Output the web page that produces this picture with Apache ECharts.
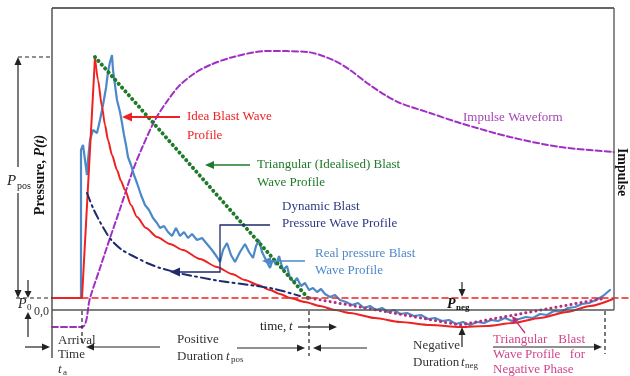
<!DOCTYPE html>
<html>
<head>
<meta charset="utf-8">
<script src="https://cdn.jsdelivr.net/npm/echarts@6/dist/echarts.min.js"></script>
<style>
  html, body { margin: 0; padding: 0; background: #fff; }
  #chart { width: 630px; height: 376px; }
</style>
</head>
<body>
<div id="chart"></div>
<script>
// time (arbitrary units) vs pressure (arbitrary units), 0,0 at arrival axis origin
var idealRise = [[0, 1.2], [3.0, 1.2], [4.3, 25.3]];
var idealDecay = [
  [4.3, 25.3], [4.6, 23.0], [5.0, 20.3], [5.3, 18.5], [5.6, 17.0], [6.0, 15.5], [6.5, 14.0],
  [6.9, 12.9], [7.3, 12.0], [7.9, 10.5], [8.5, 9.3], [9.4, 8.2], [10.5, 7.3], [11.8, 6.6],
  [13.1, 6.0], [14.8, 5.1], [16.5, 4.3], [18.0, 3.6], [19.3, 3.0], [20.6, 2.5], [21.8, 2.0],
  [22.8, 1.6], [23.8, 1.2], [25.3, 0.8], [26.8, 0.4], [28.3, 0.0], [29.8, -0.3], [32.3, -0.8],
  [34.8, -1.2], [37.8, -1.5], [40.8, -1.7], [43.5, -1.6], [46.1, -1.3], [48.8, -0.8],
  [51.5, -0.2], [53.8, 0.4], [56.1, 1.1]
];
var triangular = [[4.3, 25.3], [25.6, 1.2]];
var negTriangular = [[25.8, 1.2], [40.8, -1.5], [55.4, 1.2]];
var dynamicBlast = [
  [3.5, 11.7], [4.1, 10.2], [4.8, 8.8], [5.5, 7.6], [6.1, 6.8], [7.0, 6.0], [8.1, 5.4],
  [9.5, 4.7], [10.8, 4.2], [13.1, 3.6], [16.8, 2.9], [19.8, 2.5], [22.3, 2.1], [24.8, 1.4]
];
var impulse = [
  [0, -1.7], [3.0, -1.7], [3.8, 1.2], [4.8, 4.2], [5.8, 7.2], [6.8, 10.1], [8.1, 14.0],
  [9.0, 16.2], [10.3, 19.0], [11.6, 21.0], [12.8, 22.5], [14.3, 23.7], [15.8, 24.5],
  [18.1, 25.3], [21.5, 25.9], [25.5, 25.8], [28.1, 25.0], [29.8, 24.0], [31.5, 22.7],
  [33.3, 21.5], [34.8, 20.7], [37.8, 19.7], [40.8, 18.7], [45.8, 17.3], [50.8, 16.3], [56.2, 15.8]
];
var realPressure = [
  [2.9, 1.2], [2.9, 16.0], [3.1, 16.5], [3.3, 15.0], [3.5, 13.5], [3.6, 15.0], [3.8, 17.0],
  [4.1, 18.0], [4.5, 17.7], [4.8, 19.0], [5.1, 20.5], [5.4, 22.2], [5.6, 23.8], [5.8, 24.8],
  [6.0, 25.5], [6.1, 24.0], [6.3, 22.5], [6.5, 21.0], [6.7, 20.2], [6.8, 19.8], [7.0, 18.7],
  [7.2, 17.5], [7.4, 16.5], [7.6, 15.3], [7.9, 14.5], [8.2, 13.5], [8.5, 12.7], [8.9, 11.5],
  [9.3, 10.5], [9.7, 10.0], [10.1, 9.2], [10.5, 8.7], [10.8, 8.2], [11.2, 8.4], [11.6, 7.8],
  [12.0, 7.4], [12.4, 8.2], [12.8, 7.4], [13.2, 7.8], [13.6, 7.2], [14.0, 7.6], [14.5, 7.0],
  [15.0, 7.2], [15.5, 6.6], [16.0, 6.0], [16.5, 5.3], [16.8, 4.8], [17.1, 6.0], [17.5, 6.7],
  [17.9, 5.5], [18.3, 4.8], [18.8, 5.8], [19.3, 6.6], [19.7, 5.8], [20.1, 5.2], [20.4, 6.4],
  [20.7, 7.0], [21.0, 5.8], [21.4, 5.0], [21.8, 4.2], [22.1, 5.1], [22.4, 4.5], [22.7, 5.4],
  [23.1, 4.0], [23.5, 4.4], [23.8, 3.2], [24.2, 2.8], [24.5, 3.2], [24.9, 2.4], [25.3, 2.7],
  [25.7, 2.0], [26.1, 2.2], [26.5, 1.8], [26.9, 2.1], [27.3, 1.6], [27.8, 1.3], [28.3, 1.5],
  [28.8, 1.0], [29.4, 0.8], [30.0, 0.5], [30.6, 0.7], [31.2, 0.2], [31.8, 0.4], [32.4, 0.0],
  [33.0, 0.2], [33.6, -0.2], [34.2, 0.0], [34.8, -0.4], [35.5, -0.3], [36.2, -0.6], [36.9, -0.5],
  [37.6, -0.9], [38.3, -0.8], [39.0, -1.1], [39.7, -1.0], [40.4, -1.4], [41.1, -1.2], [41.8, -1.5],
  [42.5, -1.2], [43.2, -1.3], [43.9, -1.0], [44.6, -1.1], [45.3, -0.8], [46.0, -1.1], [46.7, -0.9],
  [47.4, -0.7], [48.1, -0.8], [48.8, -0.4], [49.5, -0.5], [50.2, -0.1], [50.9, -0.2], [51.6, 0.2],
  [52.3, 0.3], [53.0, 0.6], [53.7, 0.7], [54.4, 1.0], [55.1, 1.4], [55.8, 2.0]
];
var ambient = [[3.0, 1.2], [57.8, 1.2]];

var FONT = '"Liberation Serif", "Times New Roman", serif';
var RED = "#ee2222", GREEN = "#1f7a2a", BLUE = "#4d88c8", NAVY = "#1e2a6e",
    PURPLE = "#a12fc4", MAGENTA = "#b3307e", PINK = "#d0458c", INK = "#222";

var myChart = echarts.init(document.getElementById("chart"));

function lineSeries(data, color, width, type, extra) {
  var s = {
    type: "line",
    data: data,
    showSymbol: false,
    symbol: "none",
    silent: true,
    lineStyle: { color: color, width: width, type: type || "solid", cap: "round" }
  };
  for (var k in extra) s[k] = extra[k];
  return s;
}

function text(x, y, s, color, size, extra) {
  var st = {
    text: s, fill: color || INK,
    font: (extra && extra.font) || (size || 13) + "px " + FONT,
    align: (extra && extra.align) || "left", verticalAlign: "middle",
    textAlign: (extra && extra.align) || "left", textVerticalAlign: "middle"
  };
  if (extra && extra.rich) st.rich = extra.rich;
  return { type: "text", x: x, y: y, rotation: (extra && extra.rotation) || 0, z: 100, silent: true, style: st };
}

function seg(x1, y1, x2, y2, color, width, dash) {
  return {
    type: "line", z: 100, silent: true,
    shape: { x1: x1, y1: y1, x2: x2, y2: y2 },
    style: { stroke: color || INK, lineWidth: width || 1.2, lineDash: dash || null }
  };
}

function arrow(x1, y1, x2, y2, color, width, len, half) {
  len = len || 8; half = half || 3.5;
  var dx = x2 - x1, dy = y2 - y1, d = Math.sqrt(dx * dx + dy * dy);
  var ux = dx / d, uy = dy / d;
  var bx = x2 - ux * len, by = y2 - uy * len;
  return [
    seg(x1, y1, bx, by, color, width),
    {
      type: "polygon", z: 100, silent: true,
      shape: { points: [[x2, y2], [bx - uy * half, by + ux * half], [bx + uy * half, by - ux * half]] },
      style: { fill: color || INK }
    }
  ];
}

var g = [];
function add(el) { g = g.concat(el); }

// frame
add(seg(52, 8, 614, 8, "#666", 2));
add(seg(614, 8, 614, 310, "#666", 1.5));
add(seg(52, 310, 614, 310, "#555", 1.5));
add(seg(52, 8, 52, 358, "#555", 1.5));
// guide dashes
add(seg(18, 57, 52, 57, INK, 1.2, [4, 3]));
add(seg(16, 298, 52, 298, INK, 1.2, [4, 3]));
add(seg(82, 311, 82, 345, INK, 1.2, [4, 3]));
add(seg(309, 311, 309, 356, INK, 1.2, [4, 3]));
add(seg(605, 311, 605, 354, INK, 1.2, [4, 3]));

// left pressure arrows
add(arrow(18, 167, 18, 57));
add(arrow(18, 193, 18, 298));
add(arrow(28, 280, 28, 298, INK, 1.2, 7, 3.5));
add(arrow(28, 337, 28, 312, INK, 1.2, 7, 3.5));

// annotation arrows
add(arrow(180, 117, 122, 117, RED, 2, 10, 4.5));
add(arrow(250, 165, 205, 165, GREEN, 1.5, 9, 4));
add({
  type: "polyline", z: 100, silent: true,
  shape: { points: [[270, 225], [220, 225], [220, 272], [179, 272]] },
  style: { stroke: NAVY, lineWidth: 1.3, fill: null }
});
add(arrow(180, 272, 170, 272, NAVY, 1.3, 10, 4.5));
add(arrow(305, 261, 262, 261, BLUE, 1.3, 9, 4));
add(arrow(525, 333, 512, 316, MAGENTA, 1.3, 7, 3.5));

// bottom duration arrows
add(arrow(25, 347, 50, 347));
add(arrow(160, 347, 86, 347));
add(arrow(237, 348, 305, 348));
add(arrow(367, 348, 313, 348));
add(arrow(298, 327, 337, 327));
add(arrow(493, 347, 602, 347));
add(arrow(462, 282, 462, 297));
add(arrow(462, 347, 462, 327));

// labels
add(text(187, 117, "Idea Blast Wave", RED, 13));
add(text(187, 136, "Profile", RED, 13));
add(text(257, 165, "Triangular (Idealised) Blast", GREEN, 13));
add(text(257, 183, "Wave Profile", GREEN, 13));
add(text(282, 207, "Dynamic Blast", "#2d3a84", 13));
add(text(282, 224, "Pressure Wave Profile", "#2d3a84", 13));
add(text(315, 254, "Real pressure Blast", BLUE, 13));
add(text(315, 271, "Wave Profile", BLUE, 13));
add(text(463, 118, "Impulse Waveform", "#a646b6", 13));

add(text(493, 340, "Triangular", PINK, 13));
add(text(585, 340, "Blast", PINK, 13, { align: "right" }));
add(text(493, 355, "Wave", PINK, 13));
add(text(525, 355, "Profile", PINK, 13));
add(text(585, 355, "for", PINK, 13, { align: "right" }));
add(text(493, 370, "Negative Phase", PINK, 13));

add(text(58, 341, "Arrival", "#333", 13));
add(text(58, 355, "Time", "#333", 13));
add(text(58, 370, "t", "#333", 13, { font: "italic 13px " + FONT }));
add(text(63, 373, "a", "#333", 9));

add(text(177, 340, "Positive", "#333", 13));
add(text(177, 357, "Duration", "#333", 13));
add(text(226, 357, "t", "#333", 13, { font: "italic 13px " + FONT }));
add(text(231, 360, "pos", "#333", 9));

add(text(413, 346, "Negative", "#333", 13));
add(text(413, 363, "Duration", "#333", 13));
add(text(461, 363, "t", "#333", 13, { font: "italic 13px " + FONT }));
add(text(465, 366, "neg", "#333", 9));

add(text(260, 327, "time,", "#222", 13));
add(text(289, 327, "t", "#222", 13, { font: "italic 13px " + FONT }));

add(text(447, 304, "P", "#111", 14, { font: "bold italic 14px " + FONT }));
add(text(456, 308, "neg", "#111", 9, { font: "bold 9px " + FONT }));

add(text(7, 181, "P", "#222", 15, { font: "italic 15px " + FONT }));
add(text(17, 186, "pos", "#222", 10));
add(text(18, 304, "P", "#222", 14, { font: "italic 14px " + FONT }));
add(text(27, 308, "0", "#222", 9));
add(text(34, 312, "0,0", "#333", 12));

add(text(40, 175, "{a|Pressure, }{b|P(t)}", "#111", 14, {
  align: "center", rotation: Math.PI / 2,
  font: "bold 14px " + FONT,
  rich: {
    a: { font: "bold 14px " + FONT, fill: "#111" },
    b: { font: "bold italic 14px " + FONT, fill: "#111" }
  }
}));
add(text(622, 172, "Impulse", "#111", 14, {
  align: "center", rotation: -Math.PI / 2, font: "bold 14px " + FONT
}));

option = {
  animation: false,
  backgroundColor: "#fff",
  grid: { left: 52, right: 0, top: 8, bottom: 18 },
  xAxis: {
    type: "value", min: 0, max: 57.8,
    axisLine: { show: false }, axisTick: { show: false },
    axisLabel: { show: false }, splitLine: { show: false }
  },
  yAxis: {
    type: "value", min: -4.8, max: 30.2,
    axisLine: { show: false }, axisTick: { show: false },
    axisLabel: { show: false }, splitLine: { show: false }
  },
  series: [
    lineSeries(impulse, PURPLE, 2, [6, 3], { smooth: 0.3 }),
    lineSeries(realPressure, BLUE, 2.2),
    lineSeries(idealRise, RED, 2),
    lineSeries(idealDecay, RED, 2, "solid", { smooth: 0.25, smoothMonotone: "x" }),
    lineSeries(triangular, GREEN, 4, [0.1, 5]),
    lineSeries(dynamicBlast, NAVY, 2, [9, 4, 2, 4], { smooth: 0.2 }),
    lineSeries(negTriangular, MAGENTA, 3, [0.1, 5]),
    lineSeries(ambient, RED, 1.5, [6, 4])
  ],
  graphic: g
};

myChart.setOption(option);
</script>
</body>
</html>
